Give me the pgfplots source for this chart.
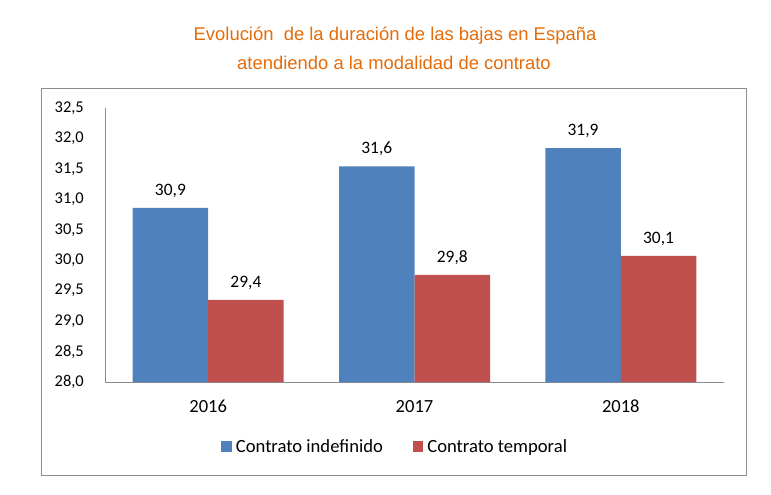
\documentclass[border=0pt]{standalone}
\usepackage{fontspec}
\setmainfont{Carlito}
\newfontfamily\titlefont{Liberation Sans}
\usepackage{pgfplots}
\pgfplotsset{compat=1.18}
\definecolor{cblue}{HTML}{4F81BD}
\definecolor{cred}{HTML}{C0504D}
\definecolor{corange}{HTML}{E46C0A}
\definecolor{cgray}{HTML}{8C8C8C}
\pgfplotstableread{
x y l
0 30.86 30,9
1 31.54 31,6
2 31.84 31,9
}\indef
\pgfplotstableread{
x y l
0 29.35 29,4
1 29.76 29,8
2 30.07 30,1
}\temp
\begin{document}
\begin{tikzpicture}
\useasboundingbox (0bp,0bp) rectangle (771bp,-495bp);
\draw[cgray, line width=1bp] (41.5bp,-88.3bp) rectangle (746.7bp,-475bp);
\node[anchor=base, text=corange, font=\titlefont\fontsize{18.5}{22}\selectfont, inner sep=0pt] at (395bp,-40bp) {Evolución\ \ de la duración de las bajas en España};
\node[anchor=base, text=corange, font=\titlefont\fontsize{18.5}{22}\selectfont, inner sep=0pt] at (394bp,-69.5bp) {atendiendo a la modalidad de contrato};
\begin{axis}[
  at={(105bp,-382bp)}, anchor=south west,
  scale only axis, width=619bp, height=274bp,
  ybar=0pt, bar width=75.5bp,
  xmin=-0.5, xmax=2.5, ymin=28, ymax=32.5,
  enlargelimits=false,
  axis x line*=bottom, axis y line*=left,
  axis line style={cgray, line width=1bp},
  major tick length=0pt,
  xtick={0,1,2}, xticklabels={2016,2017,2018},
  ytick={28,28.5,...,32.5},
  /pgf/number format/.cd, fixed, fixed zerofill, precision=1, use comma, assume math mode=true,
  /pgfplots/.cd,
  yticklabel style={font=\fontsize{16.5}{20}\selectfont, anchor=east, inner sep=0pt, xshift=-21bp},
  xticklabel style={font=\fontsize{18.6}{22}\selectfont, anchor=base, inner sep=0pt, yshift=-30.3bp},
  point meta=explicit symbolic,
  nodes near coords,
  nodes near coords style={font=\fontsize{17.5}{20}\selectfont, anchor=base, inner sep=0pt, yshift=12.7bp, text=black},
  legend columns=2,
  legend style={at={(0.1874,-0.2347)}, anchor=west, draw=none, fill=none, inner sep=0pt,
    font=\fontsize{18.7}{22}\selectfont, nodes={inner sep=0pt},
    /tikz/every odd column/.append style={column sep=4bp},
    /tikz/every even column/.append style={column sep=29.7bp}},
  legend image code/.code={\fill[#1] (0bp,-5.35bp) rectangle (10.7bp,5.35bp);},
]
\addplot[fill=cblue, draw=none] table[x=x, y=y, meta=l] {\indef};
\addplot[fill=cred, draw=none] table[x=x, y=y, meta=l] {\temp};
\legend{Contrato indefinido, Contrato temporal}
\end{axis}
\end{tikzpicture}
\end{document}
